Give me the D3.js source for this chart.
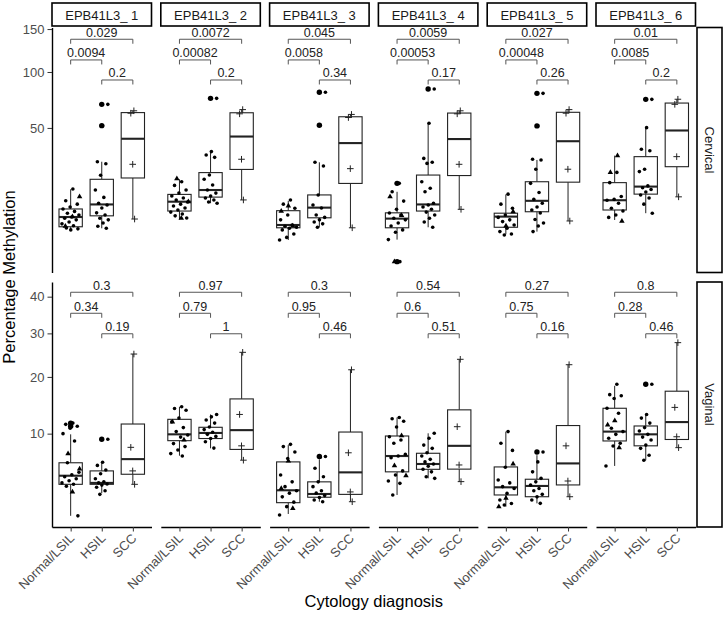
<!DOCTYPE html>
<html><head><meta charset="utf-8">
<script src="https://cdn.jsdelivr.net/npm/d3@7"></script>
<style>
body{margin:0;background:#fff}
svg text{font-family:"Liberation Sans",Arial,Helvetica,sans-serif}
</style>
</head><body>
<svg id="chart" width="723" height="618"></svg>
<script>
// ---------- categories / labels ----------
const genes = ["EPB41L3_ 1","EPB41L3_ 2","EPB41L3_ 3","EPB41L3_ 4","EPB41L3_ 5","EPB41L3_ 6"];
const sites = ["Cervical","Vaginal"];
const diagnoses = ["Normal/LSIL","HSIL","SCC"];
const cervicalTicks = [50,100,150];
const vaginalTicks = [10,20,30,40];
const cervicalLimits = [-0.247, 152];
const vaginalLimits = [1.014, 44.4];

// ---------- box statistics [lower whisker, Q1, median, Q3, upper whisker] ----------
const cervicalNormalBox = [[3.0,3.6,5.8,8.0,14.9],[5.2,7.4,10.3,12.9,19.2],[1.45,3.4,3.96,7.5,10.6],
  [1.5,3.4,5.4,6.9,13.9],[2.26,3.5,5.9,6.8,12.9],[5.07,7.7,10.8,17.7,31.6]];
const cervicalHSILBox = [[3.3,6.1,9.4,19.2,28.1],[9.8,11.9,14.6,22.4,34.0],[3.5,5.6,8.4,12.7,27.8],
  [3.5,7.4,9.4,21.2,53.5],[2.7,7.2,10.6,18.1,29.1],[6.8,13.0,16.0,31.0,50.2]];
const vaginalNormalBox = [[1.6,3.97,4.8,6.2,9.9],[7.04,9.0,9.9,12.2,14.3],[1.71,2.46,3.44,6.3,8.4],
  [3.05,5.2,7.0,9.66,12.5],[2.18,3.05,3.7,5.73,10.3],[5.84,8.96,10.3,14.05,18.2]];
const vaginalHSILBox = [[3.2,3.97,4.1,5.3,6.26],[7.97,9.3,10.1,10.95,13.0],[2.53,2.87,3.13,4.2,6.6],
  [4.54,5.47,6.06,7.34,10.05],[2.41,2.91,3.82,4.45,7.1],[6.5,8.3,9.9,11.15,13.0]];

// ---------- outliers ----------
const cervicalNormalOut = [[],[],[],[17.4,0.005],[],[]];
const cervicalHSILOut = [[69.0,51.7],[74.3],[79.9,52.0],[83.0],[78.9,51.5],[73.4]];
const vaginalNormalOut = [[11.6,11.1],[],[],[],[],[]];
const vaginalHSILOut = [[9.2],[],[6.95],[],[7.5],[18.5]];

// ---------- individual samples (circles / triangles / SCC crosses) ----------
const cervicalNormalPts = [
  [15.0,10.6,9.5,8.6,8.0,7.3,6.8,6.3,5.8,5.5,5.1,4.6,4.2,3.8,3.35,3.2,3.0],
  [18.1,16.5,14.6,13.4,12.3,11.6,10.9,10.2,9.5,8.9,8.3,7.7,7.1,6.6,6.1,5.55],
  [10.9,9.5,8.2,6.3,5.1,3.96,3.7,3.5,3.3,3.0,2.3,1.8,1.45],
  [17.4,13.9,10.5,7.9,6.85,6.3,5.5,5.1,4.4,3.75,3.0,2.6,1.5,0.005],
  [13.0,9.5,8.2,6.3,5.7,5.1,4.7,3.96,3.3,2.7,2.3,2.15],
  [22.5,17.7,12.1,11.1,10.8,9.8,8.2,7.4,6.3,5.7]];
const cervicalNormalTri = [[12.1,5.9,3.7],[19.5,10.3,5.5],[8.9,7.4,3.75],[12.1,6.2,0.005],[7.2,3.75],[31.6,22.5,4.8]];
const cervicalHSILPts = [
  [69.0,51.7,28.1,27.0,21.1,14.6,11.8,9.8,9.2,8.3,6.9,6.3,5.5,5.1,4.4,3.7,3.3],
  [74.3,34.0,32.0,30.6,21.2,19.2,16.7,14.6,13.4,12.3,11.6,10.9,10.2,9.8],
  [79.9,52.0,27.8,25.8,12.7,9.2,8.3,6.3,5.7,5.1,4.6,4.2,3.5],
  [83.0,53.5,30.0,27.8,27.2,18.1,15.3,13.9,9.8,9.2,8.6,7.9,7.1,6.3,5.5,4.6,3.5],
  [78.9,51.5,29.5,29.1,24.1,17.4,13.6,11.1,9.8,8.6,7.7,6.85,5.2,4.4,3.75,2.7],
  [73.4,50.2,35.5,34.5,24.1,22.9,16.3,15.5,14.8,13.8,12.7,11.6,9.5,6.8]];
const cervicalSCC = [[5.3,26.7,61.5,63.5],[10.9,29.5,61,64.5],[3.4,24.4,58,60.5],
  [7.9,26.7,61,63.5],[4.84,24.1,61.5,64.5],[12,31,69,73.5]];

const vaginalNormalPts = [
  [11.6,11.4,11.1,10.8,10.0,8.95,6.2,5.15,4.9,4.7,4.5,4.3,4.1,3.97,3.8,1.6],
  [14.3,14.0,13.7,12.4,11.8,10.9,10.3,9.8,9.5,8.6,8.2,7.75,7.3,7.0],
  [8.5,8.2,7.5,6.7,4.87,4.2,3.76,3.4,3.2,2.9,2.5,2.18,1.65],
  [12.5,12.3,11.9,11.0,9.55,9.1,8.64,7.2,7.0,6.8,5.3,4.87,4.28,4.06,3.05],
  [10.3,8.64,7.7,5.7,4.38,4.1,3.76,3.6,3.18,2.66,2.4,2.3],
  [18.5,16.5,16.3,15.8,14.05,13.2,10.8,10.3,9.9,9.33,8.64,8.28,5.84]];
const vaginalNormalTri = [[7.3,5.5,3.3],[11.8,9.1],[6.4,3.6,2.07],[9.7,5.87,4.8],[6.06,2.79,2.18],[12.0,11.3,8.06]];
const vaginalHSILPts = [
  [9.2,6.26,5.9,5.4,5.0,4.5,4.2,4.1,4.0,3.9,3.7,3.4,3.1],
  [13.0,12.6,12.1,11.6,11.0,10.6,10.2,9.9,9.6,9.3,8.85,8.0],
  [6.95,6.85,5.58,4.7,4.2,3.76,3.4,3.2,3.0,2.85,2.66,2.53],
  [10.05,9.33,8.4,7.97,7.4,7.0,6.6,6.3,6.06,5.8,5.47,5.2,4.7,4.54],
  [7.5,6.3,5.2,4.54,4.2,3.9,3.6,3.4,3.1,2.9,2.66,2.41],
  [18.5,13.0,12.4,11.6,10.9,10.4,9.9,9.5,9.1,8.4,7.97,7.1,6.5]];
const vaginalSCC = [[3.97,5.3,8.1,25],[6.5,8.3,13.0,25.4],[2.53,3.3,7.4,21.5],
  [4.22,5.95,11.04,23.8],[2.91,4.28,8.3,22.6],[8.06,9.55,14.2,27.7]];

// ---------- p-values: [Normal/LSIL vs SCC, Normal/LSIL vs HSIL, HSIL vs SCC] ----------
const cervicalP = [["0.029","0.0094","0.2"],["0.0072","0.00082","0.2"],["0.045","0.0058","0.34"],
  ["0.0059","0.00053","0.17"],["0.027","0.00048","0.26"],["0.01","0.0085","0.2"]];
const vaginalP = [["0.3","0.34","0.19"],["0.97","0.79","1"],["0.3","0.95","0.46"],
  ["0.54","0.6","0.51"],["0.27","0.75","0.16"],["0.8","0.28","0.46"]];
const cervicalBracketY = [137.2,113,91.8];
const vaginalBracketY = [41.3,35.3,29.9];
const bracketPairs = [[0,2],[0,1],[1,2]];

// ---------- table built from the arrays ----------
const table = [
  {site:sites[0], ticks:cervicalTicks, limits:cervicalLimits, nBox:cervicalNormalBox, hBox:cervicalHSILBox,
   nOut:cervicalNormalOut, hOut:cervicalHSILOut, nPts:cervicalNormalPts, nTri:cervicalNormalTri,
   hPts:cervicalHSILPts, scc:cervicalSCC, p:cervicalP, by:cervicalBracketY},
  {site:sites[1], ticks:vaginalTicks, limits:vaginalLimits, nBox:vaginalNormalBox, hBox:vaginalHSILBox,
   nOut:vaginalNormalOut, hOut:vaginalHSILOut, nPts:vaginalNormalPts, nTri:vaginalNormalTri,
   hPts:vaginalHSILPts, scc:vaginalSCC, p:vaginalP, by:vaginalBracketY}
];

// ---------- layout ----------
const FONT = '"Liberation Sans",Arial,Helvetica,sans-serif';
const panelX0 = 52, panelW = 99.5, panelStep = 108.8;
const rowsPos = [{top:27.5,bottom:272.5},{top:282,bottom:527}];
const svg = d3.select("#chart");

function sqrtStats(vals){
  const s = vals.map(Math.sqrt).sort(d3.ascending);
  const q1 = d3.quantile(s,0.25), med = d3.quantile(s,0.5), q3 = d3.quantile(s,0.75);
  const iqr = q3-q1;
  const inside = s.filter(v => v >= q1-1.5*iqr && v <= q3+1.5*iqr);
  return [d3.min(inside),q1,med,q3,d3.max(inside)].map(v=>v*v);
}
function frac(v){return v-Math.floor(v);}

table.forEach((row, r) => {
  const pos = rowsPos[r];
  const y = d3.scaleSqrt().domain(row.limits).range([pos.bottom, pos.top]);
  genes.forEach((gene, c) => {
    const px = panelX0 + c*panelStep;
    const g = svg.append("g").attr("transform", `translate(${px},0)`);
    const x = d3.scalePoint().domain(diagnoses).range([0,panelW]).padding(0.6);
    const step = x.step(), bw = step*0.75;
    const boxes = [row.nBox[c], row.hBox[c], sqrtStats(row.scc[c])];
    const outs = [row.nOut[c], row.hOut[c], []];
    boxes.forEach((st, k) => {
      const cx = x(diagnoses[k]);
      const bg = g.append("g").attr("stroke","#222").attr("fill","none");
      bg.append("line").attr("x1",cx).attr("x2",cx).attr("y1",y(st[3])).attr("y2",y(st[4])).attr("stroke-width",1);
      bg.append("line").attr("x1",cx).attr("x2",cx).attr("y1",y(st[1])).attr("y2",y(st[0])).attr("stroke-width",1);
      bg.append("rect").attr("x",cx-bw/2).attr("y",y(st[3])).attr("width",bw)
        .attr("height",Math.max(0.5,y(st[1])-y(st[3]))).attr("fill","#fff").attr("stroke-width",1.1);
      bg.append("line").attr("x1",cx-bw/2).attr("x2",cx+bw/2).attr("y1",y(st[2])).attr("y2",y(st[2])).attr("stroke-width",2.1);
      g.selectAll(null).data(outs[k]).enter().append("circle")
        .attr("cx",cx).attr("cy",d=>y(d)).attr("r",2.7).attr("fill","#000");
    });
    // jittered samples
    const jit = (i, w) => (frac((i+1)*0.6180339887)-0.5)*2*w*step;
    const nC = row.nPts[c];
    g.selectAll(null).data(nC).enter().append("circle")
      .attr("cx",(d,i)=>x(diagnoses[0])+jit(i,0.3)).attr("cy",d=>y(d)).attr("r",1.8).attr("fill","#000");
    g.selectAll(null).data(row.nTri[c]).enter().append("path")
      .attr("d", d3.symbol().type(d3.symbolTriangle).size(13))
      .attr("transform",(d,i)=>`translate(${x(diagnoses[0])+jit(i+nC.length+3,0.3)},${y(d)})`).attr("fill","#000");
    g.selectAll(null).data(row.hPts[c]).enter().append("circle")
      .attr("cx",(d,i)=>x(diagnoses[1])+jit(i+7,0.22)).attr("cy",d=>y(d)).attr("r",1.8).attr("fill","#000");
    g.selectAll(null).data(row.scc[c]).enter().append("path")
      .attr("d","M-3.3,0H3.3M0,-3.3V3.3").attr("stroke","#222").attr("stroke-width",1)
      .attr("transform",(d,i)=>`translate(${x(diagnoses[2])+jit(i+2,0.08)},${y(d)})`);
    // brackets
    bracketPairs.forEach((pr, b) => {
      const x1 = x(diagnoses[pr[0]]), x2 = x(diagnoses[pr[1]]), yy = y(row.by[b]);
      g.append("path").attr("d",`M${x1},${yy+4.5}V${yy}H${x2}V${yy+4.5}`)
        .attr("fill","none").attr("stroke","#555").attr("stroke-width",1);
      g.append("text").attr("x",(x1+x2)/2).attr("y",yy-2.5).attr("text-anchor","middle")
        .attr("font-size",12.5).attr("fill","#222").text(row.p[c][b]);
    });
    // y axis for first column
    if (c === 0) {
      const ax = g.append("g").call(d3.axisLeft(y).tickValues(row.ticks).tickSize(4.5).tickPadding(3).tickSizeOuter(0));
      ax.attr("font-family",FONT).attr("font-size",13);
      ax.select(".domain").attr("stroke","#000").attr("stroke-width",1.4);
      ax.selectAll(".tick line").attr("stroke","#333");
      ax.selectAll(".tick text").attr("fill","#4d4d4d");
    }
    // x axis for bottom row
    if (r === 1) {
      const ax = g.append("g").attr("transform",`translate(0,${pos.bottom})`)
        .call(d3.axisBottom(x).tickSize(4.5).tickSizeOuter(0));
      ax.attr("font-family",FONT).attr("font-size",13);
      ax.select(".domain").attr("stroke","#000").attr("stroke-width",1.4);
      ax.selectAll(".tick line").attr("stroke","#333");
      ax.selectAll(".tick text").attr("fill","#4d4d4d").attr("y",null).attr("dy",null)
        .attr("text-anchor","end").attr("transform","translate(4,12) rotate(-45)");
    }
    // top strips
    if (r === 0) {
      g.append("rect").attr("x",0).attr("y",3).attr("width",panelW).attr("height",23)
        .attr("fill","#fff").attr("stroke","#000").attr("stroke-width",1.6);
      g.append("text").attr("x",panelW/2).attr("y",20.3).attr("text-anchor","middle")
        .attr("font-size",13).attr("fill","#1a1a1a").text(gene);
    }
  });
  // right strip
  const sx = 697, sw = 25;
  svg.append("rect").attr("x",sx).attr("y",pos.top).attr("width",sw).attr("height",pos.bottom-pos.top)
    .attr("fill","#fff").attr("stroke","#000").attr("stroke-width",1.6);
  svg.append("text").attr("transform",`translate(${sx+sw/2-4.5},${(pos.top+pos.bottom)/2}) rotate(90)`)
    .attr("text-anchor","middle").attr("font-size",13).attr("fill","#1a1a1a").text(row.site);
});

// axis titles
svg.append("text").attr("x",373.75).attr("y",607).attr("text-anchor","middle")
  .attr("font-size",16.5).attr("fill","#000").text("Cytology diagnosis");
svg.append("text").attr("transform","translate(15,277) rotate(-90)").attr("text-anchor","middle")
  .attr("font-size",16.5).attr("fill","#000").text("Percentage Methylation");
</script>
</body></html>
